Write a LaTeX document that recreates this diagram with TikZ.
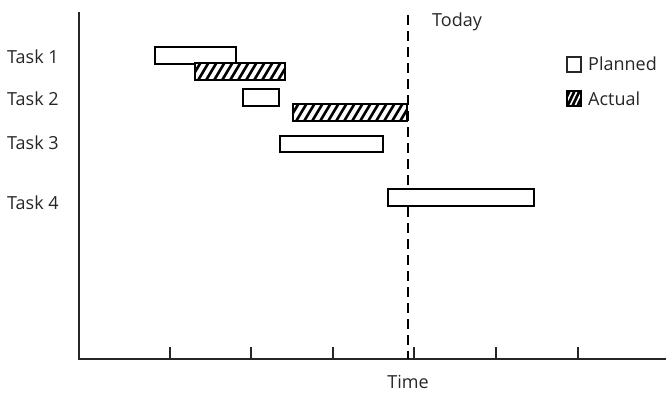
\documentclass[tikz,border=0pt]{standalone}
\usepackage{fontspec}
\setmainfont{Open Sans}
\tikzset{
  lbl/.style={inner sep=0pt, font=\fontsize{18}{20}\selectfont, text=black!85},
  bar/.style={draw=black, line width=2.4pt, fill=white},
  hatchline/.style={line width=2.6pt},
  axis/.style={line width=2.8pt, black!85},
  tick/.style={line width=2.4pt, black!85},
  todayline/.style={line width=2.6pt, dash pattern=on 10pt off 6pt}
}
\begin{document}
\begin{tikzpicture}[x=1pt,y=-1pt]
\useasboundingbox (0,0) rectangle (666,393);
% axes
\coordinate (o) at (79,359);
\coordinate (ytop) at (79,12);
\coordinate (xend) at (666,359);
\draw[axis] (ytop) -- (o) -- (xend);
\foreach \t in {170,251,333,414,496,578}{
  \coordinate (tk\t) at (\t,359);
  \draw[tick] (tk\t) -- ++(0,-12);
}
% today line
\coordinate (tdtop) at (408,15);
\coordinate (tdbot) at (408,359);
\draw[todayline] (tdtop) -- (tdbot);
% planned bars
\draw[bar] (155,47) rectangle (236,64);
\draw[bar] (243,89) rectangle (279,106);
\draw[bar] (280,136) rectangle (383,152);
\draw[bar] (388,189) rectangle (534,206);
% actual bars (hatched)
\foreach \xa/\ya/\xb/\yb in {195/63/285/80, 293/104/407/121}{
  \begin{scope}
    \clip (\xa,\ya) rectangle (\xb,\yb);
    \fill[white] (\xa,\ya) rectangle (\xb,\yb);
    \foreach \k in {-30,-22,...,130}{
      \draw[hatchline] (\xa+\k,\yb+2) -- ++(12,-20);
    }
  \end{scope}
  \draw[line width=2.4pt] (\xa,\ya) rectangle (\xb,\yb);
}
% labels
\node[lbl, anchor=west] (t1) at (7,57) {Task 1};
\node[lbl, anchor=west] (t2) at (7,99) {Task 2};
\node[lbl, anchor=west] (t3) at (7,143) {Task 3};
\node[lbl, anchor=west] (t4) at (7,203) {Task 4};
\node[lbl, anchor=west] (today) at (432,22) {Today};
\node[lbl] (time) at (408,382) {Time};
% legend
\draw[line width=2.4pt, black!85] (567,57) rectangle (581,72);
\node[lbl, anchor=west] (lp) at (588,64) {Planned};
\begin{scope}
  \clip (567,91) rectangle (581,106);
  \fill[black] (567,91) rectangle (581,106);
  \foreach \k in {-8,-3,...,14}{
    \draw[white, line width=1.6pt] (567+\k,108) -- ++(9,-19);
  }
\end{scope}
\draw[line width=2.4pt] (567,91) rectangle (581,106);
\node[lbl, anchor=west] (la) at (588,99) {Actual};
\end{tikzpicture}
\end{document}
